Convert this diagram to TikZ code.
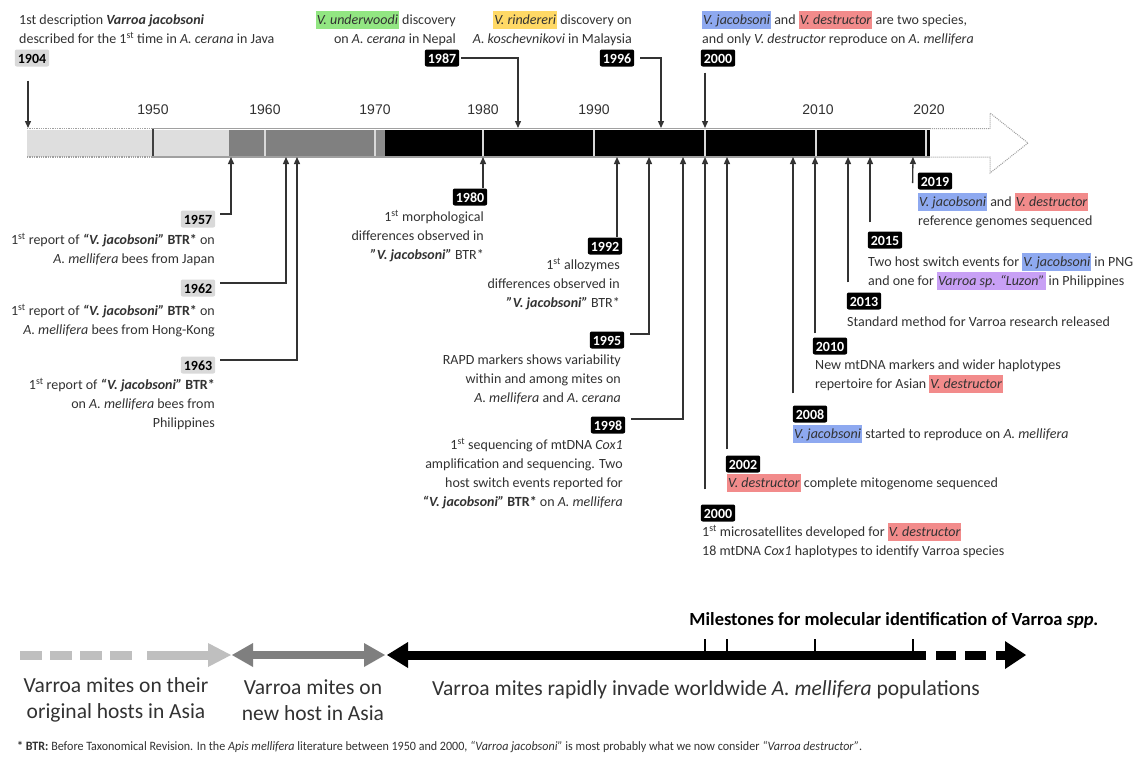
\documentclass[tikz,border=0pt]{standalone}
\usepackage{fontspec}
\usepackage{graphicx}
\setmainfont{Carlito}
\newfontfamily\arialf{Liberation Sans}
\usetikzlibrary{arrows.meta}
\definecolor{txt}{RGB}{50,50,50}
\definecolor{boxgray}{RGB}{217,217,217}
\definecolor{barlight}{RGB}{222,222,222}
\definecolor{bardark}{RGB}{128,128,128}
\definecolor{barmid}{RGB}{140,140,140}
\definecolor{bordergray}{RGB}{160,160,160}
\definecolor{hlblue}{RGB}{142,169,240}
\definecolor{hlred}{RGB}{242,139,139}
\definecolor{hlgreen}{RGB}{146,230,130}
\definecolor{hlyellow}{RGB}{255,217,102}
\definecolor{hlpurple}{RGB}{200,160,245}
\definecolor{lg}{RGB}{191,191,191}
\definecolor{mg}{RGB}{127,127,127}
\newcommand\hlt[2]{{\setlength{\fboxsep}{0pt}\colorbox{#1}{\hspace{1pt}\rule[-4pt]{0pt}{17.5pt}#2\hspace{1pt}}}}
\newcommand\fl{\rule{0pt}{13.5pt}}
\newcommand\vj{\textbf{\textit{“V. jacobsoni”}}}
\begin{document}
\begin{tikzpicture}[x=1pt,y=-1pt,
  conn/.style={draw=black!80, line width=1.3pt, -{Triangle[length=7pt,width=6pt]}},
  ybk/.style={fill=black, text=white, rounded corners=2pt, font=\fontsize{14}{14}\selectfont\bfseries, inner xsep=3pt, inner ysep=3.5pt, text height=10pt, text depth=0pt},
  ygr/.style={ybk, fill=boxgray, text=black},
  ann/.style={inner sep=0pt, text=txt, font=\fontsize{14}{18.8}\selectfont},
  annl/.style={ann, align=left, anchor=north west},
  annr/.style={ann, align=right, anchor=north east},
  yrlab/.style={text=txt, font=\arialf\fontsize{14}{14}\selectfont, inner sep=0pt},
  leg/.style={text=txt, align=center, inner sep=0pt, font=\fontsize{21.5}{26.5}\selectfont},
]
\useasboundingbox (0,0) rectangle (1147,761);
\fill[white] (0,0) rectangle (1147,761);

% ---------- timeline bar ----------
\fill[barlight] (27,129.5) rectangle (229,156.5);
\fill[bardark] (229,129.5) rectangle (375,156.5);
\fill[barmid] (375,129.5) rectangle (385,156.5);
\fill[black] (385,129.5) rectangle (930,156.5);
\foreach \x in {265,375,483,594,705,816,926}
  \draw[white!85!black, line width=1.5pt] (\x,129.5) -- (\x,156.5);
\draw[black!75, line width=1.2pt] (153,128) -- (153,157.5);
\draw[bordergray, line width=1.3pt, densely dotted] (27,128.5) -- (153,128.5);
\draw[bordergray, line width=1.3pt, densely dotted] (27,157) -- (153,157);
\draw[bordergray, line width=1.3pt] (153,128.5) -- (930,128.5);
\draw[bordergray, line width=1.3pt] (153,157) -- (930,157);
\draw[bordergray, line width=1pt, densely dotted] (930,128.5) -- (990,128.5) -- (990,113) -- (1028,143) -- (990,173) -- (990,157) -- (930,157);

\node[yrlab] (s1950) at (153,110) {1950};
\node[yrlab] (s1960) at (265,110) {1960};
\node[yrlab] (s1970) at (375,110) {1970};
\node[yrlab] (s1980) at (483,110) {1980};
\node[yrlab] (s1990) at (594,110) {1990};
\node[yrlab] (s2010) at (818,110) {2010};
\node[yrlab] (s2020) at (929,110) {2020};

% bar anchor coordinates
\coordinate (b1904) at (28,128);
\coordinate (b1987) at (518,128);
\coordinate (b1996) at (661,128);
\coordinate (b2000) at (705,128);
\coordinate (c1957) at (231,157);
\coordinate (c1962) at (286,157);
\coordinate (c1963) at (297,157);
\coordinate (c1980) at (483,157);
\coordinate (c1992) at (617,157);
\coordinate (c1995) at (649,157);
\coordinate (c1998) at (683,157);
\coordinate (c2000) at (705,157);
\coordinate (c2002) at (727,157);
\coordinate (c2008) at (793,157);
\coordinate (c2010) at (815,157);
\coordinate (c2013) at (848,157);
\coordinate (c2015) at (870,157);
\coordinate (c2019) at (913,157);

% ---------- top events ----------
\node[ygr] (y1904) at (32,58) {1904};
\node[annl] (t1904) at (19,11) {\fl 1st description \textbf{\textit{Varroa jacobsoni}}\\described for the 1\textsuperscript{st} time in \textit{A. cerana} in Java};
\draw[conn, shorten <=14pt] (y1904.south -| b1904) -- (b1904);

\node[ybk] (y1987) at (442,58) {1987};
\node[annr] (t1987) at (456,11) {\fl\hlt{hlgreen}{\textit{V. underwoodi}} discovery\\on \textit{A. cerana} in Nepal};
\draw[conn] ([xshift=2pt]y1987.east) -| (b1987);

\node[ybk] (y1996) at (617,58) {1996};
\node[annr] (t1996) at (632,11) {\fl\hlt{hlyellow}{\textit{V. rindereri}} discovery on\\\textit{A. koschevnikovi} in Malaysia};
\draw[conn] ([xshift=6pt]y1996.east) -| (b1996);

\node[ybk] (y2000a) at (718,58) {2000};
\node[annl] (t2000a) at (702,11) {\fl\hlt{hlblue}{\textit{V. jacobsoni}} and \hlt{hlred}{\textit{V. destructor}} are two species,\\and only \textit{V. destructor} reproduce on \textit{A. mellifera}};
\draw[conn, shorten <=6pt] (y2000a.south -| b2000) -- (b2000);

% ---------- bottom left events ----------
\node[ygr] (y1957) at (198,219) {1957};
\node[annr] (t1957) at (215,231) {\fl 1\textsuperscript{st} report of \vj{} \textbf{BTR*} on\\\textit{A. mellifera} bees from Japan};
\draw[conn] ([yshift=5pt,xshift=5pt]y1957.east) -| (c1957);

\node[ygr] (y1962) at (198,288) {1962};
\node[annr] (t1962) at (215,302) {\fl 1\textsuperscript{st} report of \vj{} \textbf{BTR*} on\\\textit{A. mellifera} bees from Hong-Kong};
\draw[conn] ([yshift=5pt,xshift=5pt]y1962.east) -| (c1962);

\node[ygr] (y1963) at (198,365) {1963};
\node[annr] (t1963) at (215,376) {\fl 1\textsuperscript{st} report of \vj{} \textbf{BTR*}\\on \textit{A. mellifera} bees from\\Philippines};
\draw[conn] ([yshift=5pt,xshift=5pt]y1963.east) -| (c1963);

\node[ybk] (y1980) at (470,197) {1980};
\node[annr] (t1980) at (484,208) {\fl 1\textsuperscript{st} morphological\\differences observed in\\\textbf{\textit{"V. jacobsoni"}} BTR*};
\draw[conn] (y1980.north -| c1980) -- (c1980);

\node[ybk] (y1992) at (605,246) {1992};
\node[annr] (t1992) at (620,256) {\fl 1\textsuperscript{st} allozymes\\differences observed in\\\textbf{\textit{"V. jacobsoni"}} BTR*};
\draw[conn] (y1992.north -| c1992) -- (c1992);

\node[ybk] (y1995) at (607,340) {1995};
\node[annr] (t1995) at (621,351) {\fl RAPD markers shows variability\\within and among mites on\\\textit{A. mellifera} and \textit{A. cerana}};
\draw[conn] ([yshift=6pt,xshift=6pt]y1995.east) -| (c1995);

\node[ybk] (y1998) at (608,425) {1998};
\node[annr] (t1998) at (623,436) {\fl 1\textsuperscript{st} sequencing of mtDNA \textit{Cox1}\\amplification and sequencing. Two\\host switch events reported for\\\vj{} \textbf{BTR*} on \textit{A. mellifera}};
\draw[conn] ([yshift=6pt,xshift=6pt]y1998.east) -| (c1998);

% ---------- bottom right events ----------
\node[ybk] (y2000b) at (718,513) {2000};
\node[annl] (t2000b) at (702,523) {\fl 1\textsuperscript{st} microsatellites developed for \hlt{hlred}{\textit{V. destructor}}\\18 mtDNA \textit{Cox1} haplotypes to identify Varroa species};
\draw[conn, shorten <=15pt] (y2000b.north -| c2000) -- (c2000);

\node[ybk] (y2002) at (743,464) {2002};
\node[annl] (t2002) at (727,474) {\fl\hlt{hlred}{\textit{V. destructor}} complete mitogenome sequenced};
\draw[conn, shorten <=6pt] (y2002.north -| c2002) -- (c2002);

\node[ybk] (y2008) at (810,414) {2008};
\node[annl] (t2008) at (793,425) {\fl\hlt{hlblue}{\textit{V. jacobsoni}} started to reproduce on \textit{A. mellifera}};
\draw[conn, shorten <=12pt] (y2008.north -| c2008) -- (c2008);

\node[ybk] (y2010) at (830,346) {2010};
\node[annl] (t2010) at (815,356) {\fl New mtDNA markers and wider haplotypes\\repertoire for Asian \hlt{hlred}{\textit{V. destructor}}};
\draw[conn, shorten <=4pt] (y2010.north -| c2010) -- (c2010);

\node[ybk] (y2013) at (864,301) {2013};
\node[annl] (t2013) at (847,313) {\fl Standard method for Varroa research released};
\draw[conn, shorten <=10pt] (y2013.north -| c2013) -- (c2013);

\node[ybk] (y2015) at (885,240) {2015};
\node[annl] (t2015) at (868,253) {\fl Two host switch events for \hlt{hlblue}{\textit{V. jacobsoni}} in PNG\\and one for \hlt{hlpurple}{\textit{Varroa sp. “Luzon”}} in Philippines};
\draw[conn, shorten <=9pt] (y2015.north -| c2015) -- (c2015);

\node[ybk] (y2019) at (935,181) {2019};
\node[annl] (t2019) at (918,193) {\fl\hlt{hlblue}{\textit{V. jacobsoni}} and \hlt{hlred}{\textit{V. destructor}}\\reference genomes sequenced};
\draw[conn] ([xshift=-5pt,yshift=-2pt]y2019.west) -- (c2019);

% ---------- legend ----------
\draw[lg, line width=9pt, dash pattern=on 22pt off 8pt] (20,655) -- (132,655);
\draw[lg, line width=9pt] (147,655) -- (212,655);
\fill[lg] (208,643) -- (231,655) -- (208,667) -- cycle;
\draw[mg, line width=8pt] (250,655) -- (367,655);
\fill[mg] (253,643) -- (232,655) -- (253,667) -- cycle;
\fill[mg] (364,643) -- (385,655) -- (364,667) -- cycle;
\fill[black] (408,642) -- (387,655) -- (408,668) -- cycle;
\draw[black, line width=9pt] (406,655) -- (926,655);
\foreach \x in {705,727,815,913}
  \draw[black, line width=2.5pt] (\x,656) -- (\x,639);
\draw[black, line width=9pt] (936,655) -- (956,655);
\draw[black, line width=9pt] (965,655) -- (986,655);
\draw[black, line width=9pt] (996,655) -- (1007,655);
\fill[black] (1005,641) -- (1026,655) -- (1005,669) -- cycle;

\node[leg] (l1) at (116,700) {Varroa mites on their\\original hosts in Asia};
\node[leg] (l2) at (313,700) {Varroa mites on\\new host in Asia};
\node[leg] (l3) at (706,690) {Varroa mites rapidly invade worldwide \textit{A. mellifera} populations};
\node[text=black, inner sep=0pt, font=\fontsize{18.5}{20}\selectfont\bfseries] (ms) at (894,620) {Milestones for molecular identification of Varroa \textit{spp.}};
\node[anchor=west, inner sep=0pt, text=txt] (fn) at (17,747) {\resizebox{845pt}{9.2pt}{\fontsize{13}{15}\selectfont\textbf{* BTR:} Before Taxonomical Revision. In the \textit{Apis mellifera} literature between 1950 and 2000, \textit{“Varroa jacobsoni”} is most probably what we now consider \textit{“Varroa destructor”}.}};
\end{tikzpicture}
\end{document}
